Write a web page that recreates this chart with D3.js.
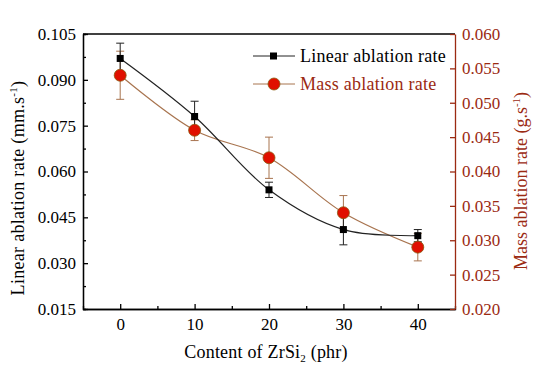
<!DOCTYPE html>
<html><head><meta charset="utf-8">
<script src="https://cdn.jsdelivr.net/npm/d3@7"></script>
<style>body{margin:0;background:#fff}svg{display:block}</style>
</head><body><svg id="c" width="550" height="384" font-family="Liberation Serif, Times New Roman, DejaVu Serif, serif"></svg>
<script>
const content = [0, 10, 20, 30, 40];
const linearRate = [0.097, 0.078, 0.054, 0.041, 0.039];
const linearErr = [0.005, 0.005, 0.0025, 0.005, 0.002];
const massRate = [0.054, 0.046, 0.042, 0.034, 0.029];
const massErr = [0.0035, 0.0015, 0.003, 0.0025, 0.002];
const xTicks = [0, 10, 20, 30, 40];
const yLeftTicks = [0.015, 0.030, 0.045, 0.060, 0.075, 0.090, 0.105];
const yRightTicks = [0.020, 0.025, 0.030, 0.035, 0.040, 0.045, 0.050, 0.055, 0.060];

const FF = "'Liberation Serif', 'Times New Roman', 'DejaVu Serif', serif";
const svg = d3.select("#c");
const L = 83, R = 455, T = 34, B = 309;
const x = d3.scaleLinear().domain([-5, 45]).range([L, R]);
const yL = d3.scaleLinear().domain([0.015, 0.105]).range([B, T]);
const yR = d3.scaleLinear().domain([0.020, 0.060]).range([B, T]);
const red = "#9b2a12", lineBrown = "#a8744f";

svg.append("line").attr("x1", L).attr("x2", R).attr("y1", T).attr("y2", T).attr("stroke", "#000").attr("stroke-width", 1.3);

const gx = svg.append("g").attr("transform", `translate(0,${B})`)
  .call(d3.axisBottom(x).tickValues(xTicks).tickSizeInner(-5).tickSizeOuter(0).tickPadding(9).tickFormat(d3.format("d")));
gx.append("g").call(d3.axisBottom(x).tickValues([5,15,25,35]).tickSize(-3).tickFormat(""));
const gl = svg.append("g").attr("transform", `translate(${L},0)`)
  .call(d3.axisLeft(yL).tickValues(yLeftTicks).tickSizeInner(-5).tickSizeOuter(0).tickPadding(7).tickFormat(d3.format(".3f")));
gl.append("g").call(d3.axisLeft(yL).tickValues(d3.range(6).map(i=>yLeftTicks[i]+0.0075)).tickSize(-3).tickFormat(""));
const gr = svg.append("g").attr("transform", `translate(${R},0)`)
  .call(d3.axisRight(yR).tickValues(yRightTicks).tickSizeInner(-5).tickSizeOuter(0).tickPadding(7).tickFormat(d3.format(".3f")));
[gx, gl].forEach(g => { g.selectAll("path,line").attr("stroke", "#000").attr("stroke-width", 1.3); g.selectAll("text").attr("font-size", 17).attr("fill", "#000"); });
gr.selectAll("path,line").attr("stroke", red).attr("stroke-width", 1.3);
gr.selectAll("text").attr("font-size", 17).attr("fill", red);
svg.selectAll("g").attr("font-family", null).attr("font-size", null);

svg.append("text").attr("x", 266).attr("y", 358).attr("text-anchor", "middle").attr("font-size", 18).attr("letter-spacing", 0.2)
  .html('Content of ZrSi<tspan font-size="11" dy="4">2</tspan><tspan dy="-4"> (phr)</tspan>');
svg.append("text").attr("transform", "translate(24,188) rotate(-90)").attr("text-anchor", "middle").attr("font-size", 18).attr("letter-spacing", 0.3)
  .html('Linear ablation rate (mm.s<tspan font-size="11" dy="-7">-1</tspan><tspan dy="7">)</tspan>');
svg.append("text").attr("transform", "translate(527,181) rotate(-90)").attr("text-anchor", "middle").attr("font-size", 18).attr("fill", red)
  .html('Mass ablation rate (g.s<tspan font-size="11" dy="-7">-1</tspan><tspan dy="7">)</tspan>');

const lin = content.map((c, i) => ({x: c, y: linearRate[i], e: linearErr[i]}));
const mas = content.map((c, i) => ({x: c, y: massRate[i], e: massErr[i]}));

function errBars(data, ys, color) {
  const g = svg.append("g").attr("stroke", color).attr("stroke-width", 1);
  data.forEach(d => {
    g.append("line").attr("x1", x(d.x)).attr("x2", x(d.x)).attr("y1", ys(d.y - d.e)).attr("y2", ys(d.y + d.e));
    [d.y - d.e, d.y + d.e].forEach(v => g.append("line").attr("x1", x(d.x) - 4).attr("x2", x(d.x) + 4).attr("y1", ys(v)).attr("y2", ys(v)));
  });
}
errBars(mas, yR, lineBrown);
errBars(lin, yL, "#222");

svg.append("path").datum(mas).attr("fill", "none").attr("stroke", lineBrown).attr("stroke-width", 1.2)
  .attr("d", d3.line().x(d => x(d.x)).y(d => yR(d.y)).curve(d3.curveCatmullRom));
svg.append("path").datum(lin).attr("fill", "none").attr("stroke", "#222").attr("stroke-width", 1.2)
  .attr("d", d3.line().x(d => x(d.x)).y(d => yL(d.y)).curve(d3.curveCatmullRom));

svg.selectAll(".sq").data(lin).join("rect").attr("x", d => x(d.x) - 3.5).attr("y", d => yL(d.y) - 3.5).attr("width", 7).attr("height", 7).attr("fill", "#000");
svg.selectAll(".ci").data(mas).join("circle").attr("cx", d => x(d.x)).attr("cy", d => yR(d.y)).attr("r", 6).attr("fill", "#e01000").attr("stroke", "#8a5a10").attr("stroke-width", 0.8);

const lg = svg.append("g");
lg.append("line").attr("x1", 253).attr("x2", 295).attr("y1", 56).attr("y2", 56).attr("stroke", "#222");
lg.append("rect").attr("x", 270).attr("y", 52.5).attr("width", 7).attr("height", 7).attr("fill", "#000");
lg.append("text").attr("x", 300).attr("y", 62).attr("font-size", 18).attr("letter-spacing", 0.25).text("Linear ablation rate");
lg.append("line").attr("x1", 253).attr("x2", 295).attr("y1", 84).attr("y2", 84).attr("stroke", lineBrown);
lg.append("circle").attr("cx", 274).attr("cy", 84).attr("r", 6).attr("fill", "#e01000").attr("stroke", "#8a5a10").attr("stroke-width", 0.8);
lg.append("text").attr("x", 300).attr("y", 90).attr("font-size", 18).attr("letter-spacing", 0.25).attr("fill", red).text("Mass ablation rate");
svg.selectAll("text").attr("font-family", FF);
</script></body></html>
